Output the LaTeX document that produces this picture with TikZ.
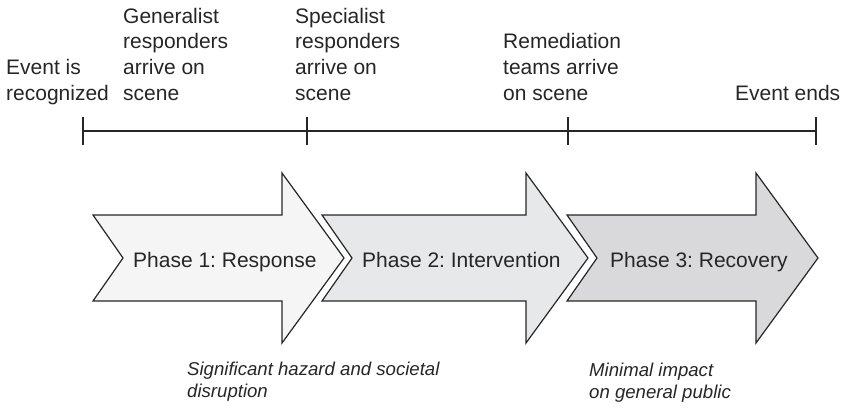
\documentclass[tikz,border=0pt]{standalone}
\usepackage{fontspec}
\setmainfont{Liberation Sans}
\frenchspacing
\definecolor{ink}{HTML}{262626}
\definecolor{fillA}{HTML}{F5F5F5}
\definecolor{fillB}{HTML}{E7E8EA}
\definecolor{fillC}{HTML}{D9D9DB}
\begin{document}
\begin{tikzpicture}[x=1pt,y=-1pt,
  rule/.style={draw=ink, line width=1.2pt},
  phasebox/.style={draw=ink, line width=1.2pt, line join=miter},
  toplabel/.style={anchor=base west, inner sep=0pt, text=ink,
    font=\fontsize{21}{25.8}\selectfont},
  phaselabel/.style={anchor=base west, inner sep=0pt, text=ink,
    font=\fontsize{21}{25.8}\selectfont},
  note/.style={anchor=base west, inner sep=0pt, text=ink,
    font=\fontsize{18.6}{22}\selectfont\itshape}]
\useasboundingbox (0,0) rectangle (844,408);

% timeline with its four milestones
\coordinate (t0) at (83,131);
\coordinate (t1) at (307,131);
\coordinate (t2) at (568,131);
\coordinate (t3) at (816,131);
\draw[rule] (t0) -- (t3);
\foreach \t in {t0,t1,t2,t3}
  \draw[rule] ([yshift=-14pt]\t) -- ([yshift=14pt]\t);

% milestone labels
\node[toplabel] (recognized) at (6,100.5)
  {\begin{tabular}[b]{@{}l@{}}Event is\\recognized\end{tabular}};
\node[toplabel] (generalist) at (123,100.5)
  {\begin{tabular}[b]{@{}l@{}}Generalist\\responders\\arrive on\\scene\end{tabular}};
\node[toplabel] (specialist) at (295,100.5)
  {\begin{tabular}[b]{@{}l@{}}Specialist\\responders\\arrive on\\scene\end{tabular}};
\node[toplabel] (remediation) at (503,100.5)
  {\begin{tabular}[b]{@{}l@{}}Remediation\\teams arrive\\on scene\end{tabular}};
\node[toplabel] (ends) at (735,100.5) {Event ends};

% phase arrows: left edge, notch, shoulder, tip
\draw[phasebox, fill=fillA] (93,215) -- (282,215) -- (282,173) -- (344,258)
  -- (282,343) -- (282,301) -- (93,301) -- (123,258) -- cycle;
\draw[phasebox, fill=fillB] (322,215) -- (526,215) -- (526,173) -- (588,258)
  -- (526,343) -- (526,301) -- (322,301) -- (352,258) -- cycle;
\draw[phasebox, fill=fillC] (567,215) -- (756,215) -- (756,173) -- (818,258)
  -- (756,343) -- (756,301) -- (567,301) -- (597,258) -- cycle;

\node[phaselabel] (p1) at (133,267) {Phase 1: Response};
\node[phaselabel] (p2) at (362,267) {Phase 2: Intervention};
\node[phaselabel] (p3) at (610,267) {Phase 3: Recovery};

% impact notes
\node[note] (hazard) at (187,397.5)
  {\begin{tabular}[b]{@{}l@{}}Significant hazard and societal\\disruption\end{tabular}};
\node[note] (minimal) at (589,398.5)
  {\begin{tabular}[b]{@{}l@{}}Minimal impact\\on general public\end{tabular}};
\end{tikzpicture}
\end{document}
